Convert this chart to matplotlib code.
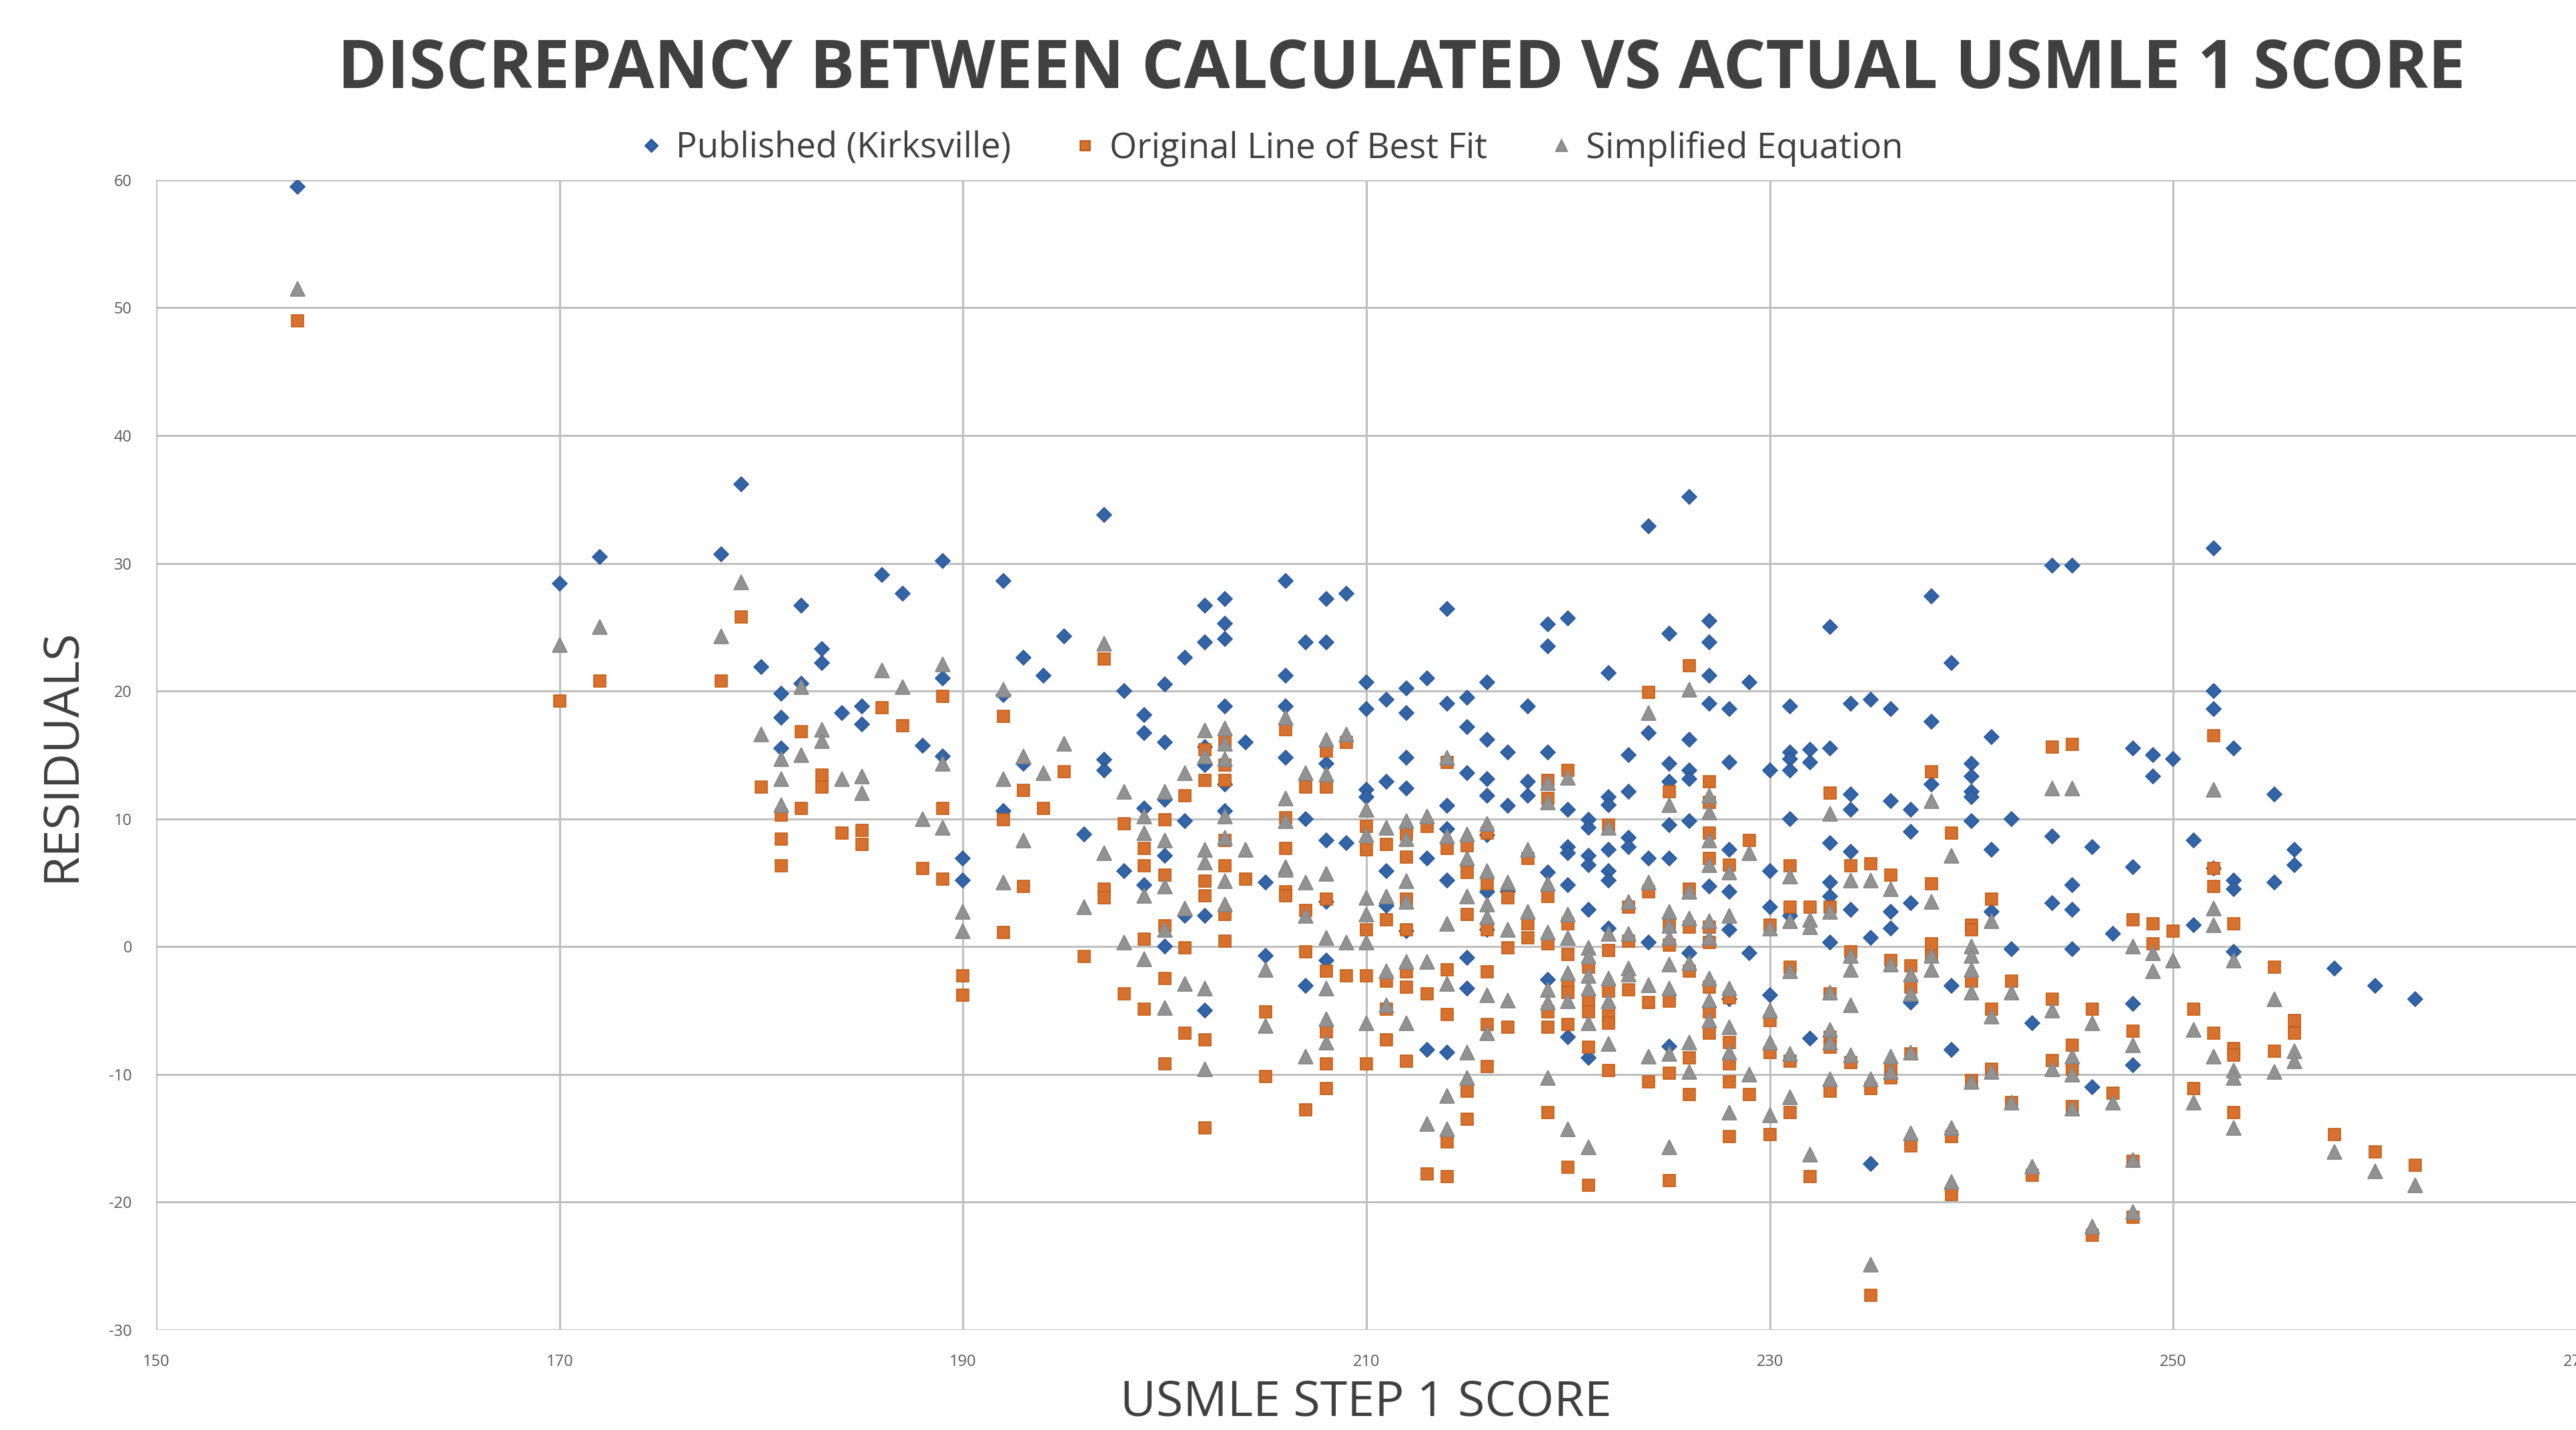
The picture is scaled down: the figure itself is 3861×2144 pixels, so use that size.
import matplotlib
matplotlib.use("Agg")
import matplotlib.pyplot as plt
from matplotlib.lines import Line2D

plt.rcParams["font.family"] = ["Open Sans", "DejaVu Sans"]
plt.rcParams["axes.unicode_minus"] = False

# (USMLE step 1 score, residuals), one list per series
published = [
    (157, [59.5]), (170, [28.4]), (172, [30.5]), (178, [30.7]), (179, [36.2]), (180, [21.9]),
    (181, [19.8, 17.9, 15.5]), (182, [26.7, 20.6]), (183, [23.3, 22.2]), (184, [18.3]),
    (185, [18.8, 17.4]), (186, [29.1]), (187, [27.6]), (188, [15.7]), (189, [30.2, 21.0, 14.9]),
    (190, [6.9, 5.2]), (192, [28.6, 19.7, 10.6]), (193, [22.6, 14.3]), (194, [21.2]), (195, [24.3]),
    (196, [8.8]), (197, [33.8, 14.6, 13.8]), (198, [20.0, 5.9]), (199, [18.1, 16.7, 10.8, 4.8]),
    (200, [20.5, 16.0, 11.5, 7.1, 0.0]), (201, [22.6, 9.8, 2.4]),
    (202, [26.7, 23.8, 15.6, 14.2, 2.4, -5.0]), (203, [27.2, 25.3, 24.1, 18.8, 12.7, 10.6]),
    (204, [16.0]), (205, [5.0, -0.7]), (206, [28.6, 21.2, 18.8, 14.8]), (207, [23.8, 10.0, -3.1]),
    (208, [27.2, 23.8, 14.3, 8.3, 3.5, -1.1]), (209, [27.6, 8.1]), (210, [20.7, 18.6, 12.3, 11.7]),
    (211, [19.3, 12.9, 5.9, 3.2]), (212, [20.2, 18.3, 14.8, 12.4, 1.2]), (213, [21.0, 6.9, -8.1]),
    (214, [26.4, 19.0, 11.0, 9.2, 5.2, -8.3]), (215, [19.5, 17.2, 13.6, -0.9, -3.3]),
    (216, [20.7, 16.2, 13.1, 11.8, 8.7, 4.3, 1.3]), (217, [15.2, 11.0, 4.3]), (218, [18.8, 12.9, 11.8]),
    (219, [25.2, 23.5, 15.2, 5.8, -2.6]), (220, [25.7, 10.7, 7.8, 7.3, 4.8, -7.1]),
    (221, [9.9, 9.3, 7.1, 6.4, 2.9, -8.7]), (222, [21.4, 11.7, 11.1, 7.6, 5.9, 5.2, 1.4]),
    (223, [15.0, 12.1, 8.5, 7.8]), (224, [32.9, 16.7, 6.9, 0.3]),
    (225, [24.5, 14.3, 12.9, 9.5, 6.9, -7.8]), (226, [35.2, 16.2, 13.8, 13.1, 9.8, -0.5]),
    (227, [25.5, 23.8, 21.2, 19.0, 4.7]), (228, [18.6, 14.4, 7.6, 4.3, 1.3, -4.1]),
    (229, [20.7, -0.5]), (230, [13.8, 5.9, 3.1, -3.8]), (231, [18.8, 15.2, 14.7, 13.8, 10.0, 2.4]),
    (232, [15.4, 14.4, -7.2]), (233, [25.0, 15.5, 8.1, 5.0, 3.9, 0.3]),
    (234, [19.0, 11.9, 10.7, 7.4, 2.9]), (235, [19.3, 0.7, -17.0]), (236, [18.6, 11.4, 2.7, 1.4]),
    (237, [10.7, 9.0, 3.4, -4.4]), (238, [27.4, 17.6, 12.7]), (239, [22.2, -3.1, -8.1]),
    (240, [14.3, 13.3, 12.1, 11.7, 9.8]), (241, [16.4, 7.6, 2.7]), (242, [10.0, -0.2]),
    (243, [-6.0]), (244, [29.8, 8.6, 3.4]), (245, [29.8, 4.8, 2.9, -0.2]), (246, [7.8, -11.0]),
    (247, [1.0]), (248, [15.5, 6.2, -4.5, -9.3]), (249, [15.0, 13.3]), (250, [14.7]),
    (251, [8.3, 1.7]), (252, [31.2, 20.0, 18.6, 6.1]), (253, [15.5, 5.2, 4.5, -0.4]),
    (255, [11.9, 5.0]), (256, [7.6, 6.4]), (258, [-1.7]), (260, [-3.1]), (262, [-4.1]),
]

best_fit = [
    (157, [49.0]), (170, [19.2]), (172, [20.8]), (178, [20.8]), (179, [25.8]), (180, [12.5]),
    (181, [10.3, 8.4, 6.3]), (182, [16.8, 10.8]), (183, [13.4, 12.5]), (184, [8.9]),
    (185, [9.1, 8.0]), (186, [18.7]), (187, [17.3]), (188, [6.1]), (189, [19.6, 10.8, 5.3]),
    (190, [-2.3, -3.8]), (192, [18.0, 9.9, 1.1]), (193, [12.2, 4.7]), (194, [10.8]), (195, [13.7]),
    (196, [-0.8]), (197, [22.5, 4.5, 3.8]), (198, [9.6, -3.7]), (199, [7.7, 6.3, 0.6, -4.9]),
    (200, [9.9, 5.6, 1.6, -2.5, -9.2]), (201, [11.8, -0.1, -6.8]),
    (202, [15.4, 13.0, 5.1, 4.0, -7.3, -14.2]), (203, [16.1, 14.2, 13.0, 8.3, 6.3, 2.5, 0.4]),
    (204, [5.3]), (205, [-5.1, -10.2]), (206, [17.0, 10.1, 7.7, 4.3, 4.0]),
    (207, [12.5, 2.8, -0.4, -12.8]), (208, [15.3, 12.5, 3.7, -1.9, -6.7, -9.2, -11.1]),
    (209, [16.0, -2.3]), (210, [9.4, 7.6, 1.3, -2.3, -9.2]), (211, [8.0, 2.1, -2.7, -4.9, -7.3]),
    (212, [8.8, 7.0, 3.7, 1.3, -2.0, -3.2, -9.0]), (213, [9.4, -3.7, -17.8]),
    (214, [14.4, 7.7, -1.8, -5.3, -15.3, -18.0]), (215, [7.9, 5.8, 2.5, -11.3, -13.5]),
    (216, [8.9, 4.9, 1.3, -2.0, -6.1, -9.4]), (217, [3.8, -0.1, -6.3]), (218, [6.9, 1.8, 0.7]),
    (219, [13.0, 11.6, 3.9, 0.2, -5.1, -6.3, -13.0]), (220, [13.8, 1.8, -0.6, -3.0, -3.6, -6.1, -17.3]),
    (221, [-1.6, -4.3, -5.1, -7.9, -18.7]), (222, [9.5, -0.3, -3.5, -5.4, -6.0, -9.7]),
    (223, [3.1, 0.4, -3.4]), (224, [19.9, 4.3, -4.4, -10.6]), (225, [12.1, 1.7, 0.1, -4.3, -9.9, -18.3]),
    (226, [22.0, 4.5, 1.5, -1.9, -8.7, -11.6]), (227, [12.9, 11.3, 8.9, 6.9, 1.5, 0.3, -3.2, -5.1, -6.8]),
    (228, [6.4, -4.0, -7.5, -9.2, -10.6, -14.9]), (229, [8.3, -11.6]), (230, [1.7, -5.8, -8.3, -14.7]),
    (231, [6.3, 3.1, -1.6, -9.0, -13.0]), (232, [3.1, -18.0]), (233, [12.0, 3.1, -3.7, -7.1, -7.9, -11.3]),
    (234, [6.3, -0.4, -9.1]), (235, [6.5, -11.1, -27.3]), (236, [5.6, -1.1, -9.6, -10.3]),
    (237, [-1.5, -3.2, -8.4, -15.6]), (238, [13.7, 4.9, 0.2, -0.7]), (239, [8.9, -14.9, -19.4]),
    (240, [1.7, 1.3, -2.7, -10.5]), (241, [3.7, -4.9, -9.6]), (242, [-2.7, -12.2]), (243, [-17.9]),
    (244, [15.6, -4.1, -8.9]), (245, [15.8, -7.7, -9.6, -12.5]), (246, [-4.9, -22.6]), (247, [-11.5]),
    (248, [2.1, -6.6, -16.8, -21.2]), (249, [1.8, 0.2]), (250, [1.2]), (251, [-4.9, -11.1]),
    (252, [16.5, 6.1, 4.7, -6.8]), (253, [1.8, -8.0, -8.5, -13.0]), (255, [-1.6, -8.2]),
    (256, [-5.8, -6.8]), (258, [-14.7]), (260, [-16.1]), (262, [-17.1]),
]

simplified = [
    (157, [51.5]), (170, [23.6]), (172, [25.0]), (178, [24.3]), (179, [28.5]), (180, [16.6]),
    (181, [14.7, 13.1, 11.1]), (182, [20.3, 15.0]), (183, [17.0, 16.1]), (184, [13.1]),
    (185, [13.3, 12.0]), (186, [21.6]), (187, [20.3]), (188, [10.0]), (189, [22.1, 14.3, 9.3]),
    (190, [2.7, 1.2]), (192, [20.1, 13.1, 5.0]), (193, [14.9, 8.3]), (194, [13.6]), (195, [15.9]),
    (196, [3.1]), (197, [23.7, 7.3]), (198, [12.1, 0.3]), (199, [10.2, 8.9, 4.0, -1.0]),
    (200, [12.1, 8.3, 4.7, 1.3, -4.8]), (201, [13.6, 3.0, -2.9]),
    (202, [16.9, 14.9, 7.6, 6.6, -3.3, -9.6]), (203, [17.1, 15.9, 14.7, 10.2, 8.5, 5.1, 3.3]),
    (204, [7.6]), (205, [-1.8, -6.2]), (206, [17.9, 11.6, 9.8, 6.2, 6.0]), (207, [13.6, 5.0, 2.4, -8.6]),
    (208, [16.2, 13.5, 5.7, 0.7, -3.3, -5.7, -7.5]), (209, [16.6, 0.3]),
    (210, [10.7, 8.7, 3.8, 2.5, 0.3, -6.0]), (211, [9.3, 3.9, -1.9, -4.6]),
    (212, [9.8, 8.4, 5.1, 3.5, -1.2, -6.0]), (213, [10.2, -1.2, -13.9]),
    (214, [14.8, 8.6, 1.8, -2.9, -11.7, -14.3]), (215, [8.8, 6.9, 3.9, -8.3, -10.3]),
    (216, [9.6, 5.9, 3.3, 2.3, -3.8, -6.8]), (217, [5.0, 1.3, -4.2]), (218, [7.6, 2.7]),
    (219, [12.8, 11.3, 4.9, 1.1, -3.4, -4.4, -10.3]), (220, [13.2, 2.5, 0.7, -2.1, -4.3, -14.3]),
    (221, [-0.1, -0.8, -2.3, -3.3, -6.0, -15.7]), (222, [9.3, 1.0, -2.5, -4.3, -7.6]),
    (223, [3.5, 1.0, -1.7, -2.2]), (224, [18.3, 5.0, -3.0, -8.6]),
    (225, [11.1, 2.7, 1.6, 0.7, -1.4, -3.3, -8.4, -15.7]), (226, [20.1, 4.3, 2.2, -1.3, -7.5, -9.8]),
    (227, [11.8, 10.5, 8.3, 6.4, 2.0, 0.7, -2.5, -4.2, -5.8]), (228, [5.8, 2.4, -3.3, -6.3, -8.3, -13.0]),
    (229, [7.3, -10.0]), (230, [1.4, -5.0, -7.5, -13.2]), (231, [5.5, 2.0, -1.9, -8.4, -11.8]),
    (232, [2.1, 1.5, -16.3]), (233, [10.4, 2.7, -3.6, -6.5, -7.5, -10.4]),
    (234, [5.2, -0.7, -1.8, -4.6, -8.5]), (235, [5.2, -10.4, -24.9]), (236, [4.5, -1.4, -8.6, -9.8]),
    (237, [-2.2, -3.7, -8.3, -14.6]), (238, [11.4, 3.5, -0.7, -1.8]), (239, [7.1, -14.2, -18.4]),
    (240, [0.0, -0.7, -1.8, -3.6, -10.6]), (241, [2.0, -5.5, -9.8]), (242, [-3.6, -12.2]),
    (243, [-17.2]), (244, [12.4, -5.0, -9.6]), (245, [12.4, -8.6, -10.0, -12.7]), (246, [-6.0, -21.9]),
    (247, [-12.2]), (248, [0.0, -7.7, -16.7, -20.8]), (249, [-0.5, -1.9]), (250, [-1.1]),
    (251, [-6.5, -12.2]), (252, [12.3, 3.0, 1.7, -8.6]), (253, [-1.1, -9.7, -10.3, -14.2]),
    (255, [-4.1, -9.8]), (256, [-8.2, -9.0]), (258, [-16.1]), (260, [-17.6]), (262, [-18.7]),
]

x_ticks = list(range(150, 271, 20))
y_ticks = list(range(-30, 61, 10))


def flatten(series):
    xs, ys = [], []
    for score, values in series:
        for v in values:
            xs.append(score)
            ys.append(v)
    return xs, ys


fig = plt.figure(figsize=(19.31, 10.72), dpi=200, facecolor="white")
ax = fig.add_axes([0.0606, 0.0701, 0.9394, 0.8040])

styles = [
    ("Published (Kirksville)", published, "D", 5.6, "#3264A8", "#2B5797"),
    ("Original Line of Best Fit", best_fit, "s", 6.4, "#D8702E", "#C0601A"),
    ("Simplified Equation", simplified, "^", 7.6, "#929292", "#878787"),
]

handles = []
for label, series, marker, size, face, edge in styles:
    xs, ys = flatten(series)
    ax.plot(xs, ys, linestyle="none", marker=marker, markersize=size,
            markerfacecolor=face, markeredgecolor=edge, markeredgewidth=0.6, zorder=3)
    handles.append(Line2D([], [], linestyle="none", marker=marker, markersize=size * 0.8,
                          markerfacecolor=face, markeredgecolor=edge, label=label))

ax.set_xlim(150, 270)
ax.set_ylim(-30, 60)
ax.set_xticks(x_ticks)
ax.set_yticks(y_ticks)
ax.grid(True, color="#bfbfbf", linewidth=1.1, zorder=0)
ax.set_axisbelow(True)
for spine in ax.spines.values():
    spine.set_visible(False)
ax.tick_params(length=0, labelsize=8.5, labelcolor="#595959")
ax.tick_params(axis="x", pad=13)
ax.tick_params(axis="y", pad=13)

fig.text(0.544, 0.951, "DISCREPANCY BETWEEN CALCULATED VS ACTUAL USMLE 1 SCORE",
         ha="center", va="center", fontsize=36, fontweight="bold", color="#404040")
fig.text(0.530, 0.019, "USMLE STEP 1 SCORE", ha="center", va="center",
         fontsize=26.5, color="#404040")
fig.text(0.024, 0.472, "RESIDUALS", ha="center", va="center", rotation=90,
         fontsize=26.5, color="#404040")

fig.legend(handles=handles, loc="center", bbox_to_anchor=(0.493, 0.896), ncol=3,
           frameon=False, fontsize=19, handlelength=0.8, handletextpad=0.3,
           columnspacing=1.7, labelcolor="#404040")

fig.savefig("out.png", dpi=200, facecolor="white")
